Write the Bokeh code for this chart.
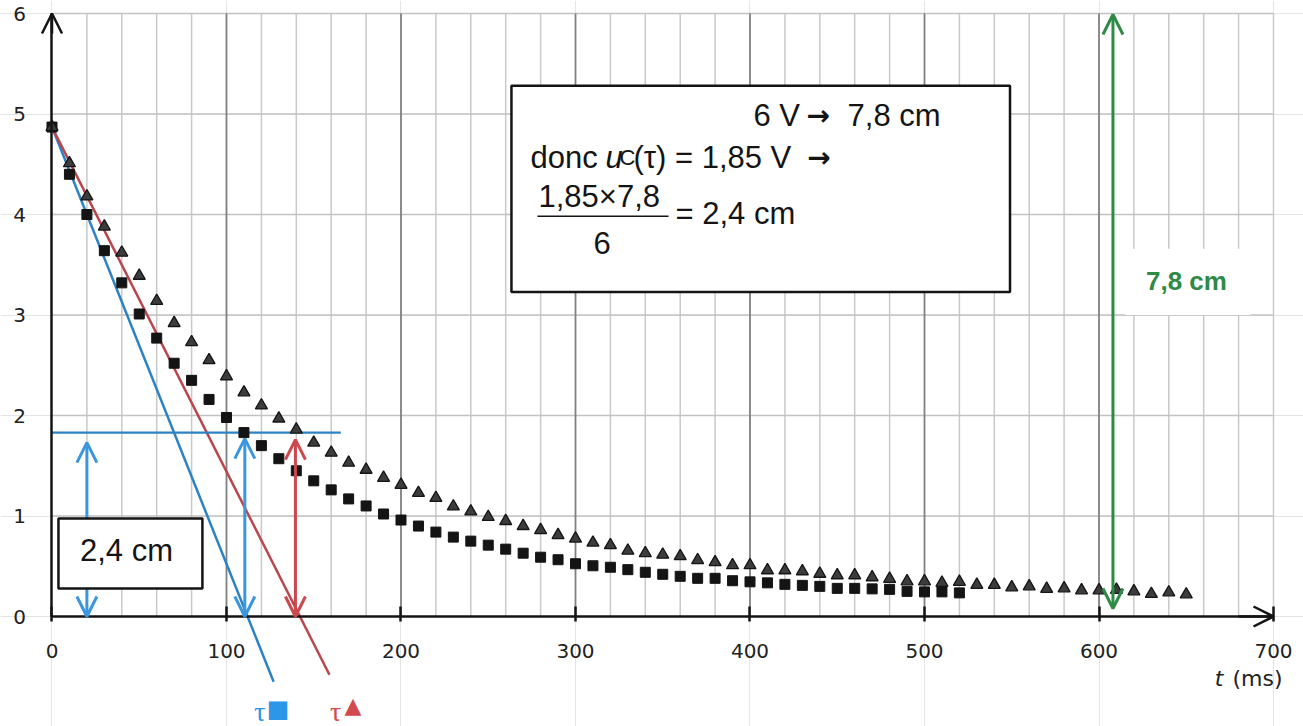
from bokeh.plotting import figure
from bokeh.models import (ColumnDataSource, LinearAxis, FixedTicker, Arrow, OpenHead,
                          Label, BoxAnnotation, Range1d)
from bokeh.embed import file_html
from bokeh.resources import INLINE

# ---------------- data ----------------
t_square = [0, 10, 20, 30, 40, 50, 60, 70, 80, 90, 100, 110, 120, 130, 140, 150, 160, 170,
            180, 190, 200, 210, 220, 230, 240, 250, 260, 270, 280, 290, 300, 310, 320, 330,
            340, 350, 360, 370, 380, 390, 400, 410, 420, 430, 440, 450, 460, 470, 480, 490,
            500, 510, 520]
u_square = [4.87, 4.40, 4.00, 3.64, 3.32, 3.01, 2.77, 2.52, 2.35, 2.16, 1.98, 1.83, 1.70,
            1.57, 1.45, 1.35, 1.26, 1.17, 1.10, 1.02, 0.96, 0.90, 0.84, 0.79, 0.75, 0.71,
            0.67, 0.63, 0.59, 0.565, 0.525, 0.505, 0.49, 0.466, 0.44, 0.42, 0.40, 0.38,
            0.38, 0.356, 0.345, 0.335, 0.32, 0.31, 0.30, 0.28, 0.28, 0.275, 0.27, 0.25,
            0.245, 0.245, 0.235]

t_triangle = [0, 10, 20, 30, 40, 50, 60, 70, 80, 90, 100, 110, 120, 130, 140, 150, 160, 170,
              180, 190, 200, 210, 220, 230, 240, 250, 260, 270, 280, 290, 300, 310, 320, 330,
              340, 350, 360, 370, 380, 390, 400, 410, 420, 430, 440, 450, 460, 470, 480, 490,
              500, 510, 520, 530, 540, 550, 560, 570, 580, 590, 600, 610, 620, 630, 640, 650]
u_triangle = [4.87, 4.51, 4.18, 3.88, 3.62, 3.39, 3.14, 2.92, 2.73, 2.55, 2.39, 2.23, 2.10,
              1.97, 1.86, 1.73, 1.63, 1.53, 1.46, 1.38, 1.31, 1.23, 1.18, 1.095, 1.045, 0.99,
              0.95, 0.90, 0.86, 0.81, 0.775, 0.735, 0.71, 0.655, 0.63, 0.615, 0.60, 0.56,
              0.54, 0.51, 0.51, 0.46, 0.46, 0.45, 0.425, 0.41, 0.41, 0.39, 0.375, 0.35, 0.35,
              0.335, 0.345, 0.315, 0.315, 0.29, 0.30, 0.275, 0.28, 0.26, 0.26, 0.265, 0.25,
              0.225, 0.24, 0.22]

x_ticks = [0, 100, 200, 300, 400, 500, 600, 700]
y_ticks = [0, 1, 2, 3, 4, 5, 6]
x_grid_major = [100, 200, 300, 400, 500, 600]
x_grid_minor = [20, 40, 60, 80, 120, 140, 160, 180, 220, 240, 260, 280, 320, 340, 360, 380,
                420, 440, 460, 480, 520, 540, 560, 580, 620, 640, 660, 680, 700]
y_grid = [1, 2, 3, 4, 5, 6]

# tangent lines at t = 0 (end points)
tan_sq_t = [0, 127]
tan_sq_u = [4.87, -0.65]
tan_tri_t = [0, 159]
tan_tri_u = [4.87, -0.58]
level_t = [0, 165.5]
level_u = [1.83, 1.83]

# double arrows
blue_arrow_t = [20, 110.5]
blue_arrow_lo = [0.0, 0.0]
blue_arrow_hi = [1.73, 1.77]
red_arrow_t = [139.5]
red_arrow_lo = [0.0]
red_arrow_hi = [1.76]
green_arrow_t = [608]
green_arrow_lo = [0.08]
green_arrow_hi = [5.99]

# ---------------- figure ----------------
BLUE = "#2c82c4"
BLUE_A = "#3a96de"
RED = "#b9464d"
RED_A = "#cc484e"
GREEN = "#2f8a45"
INK = "#141414"

p = figure(width=1303, height=726,
           x_range=Range1d(-29.51, 717.19), y_range=Range1d(-1.0945, 6.1294),
           output_backend="svg", toolbar_location=None,
           x_axis_location=None, y_axis_location=None, min_border=0)
p.outline_line_color = None
p.background_fill_color = "white"
p.border_fill_color = "white"

# grid
p.segment(x0=x_grid_minor, y0=0, x1=x_grid_minor, y1=6, line_color="#c9c9c9", line_width=1.5)
p.segment(x0=0, y0=y_grid, x1=700, y1=y_grid, line_color="#c2c2c2", line_width=1.6)
p.segment(x0=x_grid_major, y0=0, x1=x_grid_major, y1=6, line_color="#808080", line_width=1.8)

# axes placed at the origin
xaxis = LinearAxis(fixed_location=0, ticker=FixedTicker(ticks=x_ticks), bounds=(0, 700))
xaxis.axis_line_color = INK
xaxis.axis_line_width = 2.5
xaxis.major_tick_line_color = INK
xaxis.major_tick_line_width = 2.5
xaxis.major_tick_in = 10
xaxis.major_tick_out = 5
xaxis.minor_tick_line_color = None
xaxis.major_label_text_font = "DejaVu Sans"
xaxis.major_label_text_font_size = "20px"
xaxis.major_label_text_color = "#222222"
xaxis.major_label_standoff = 22
p.add_layout(xaxis, "below")

yaxis = LinearAxis(fixed_location=0, ticker=FixedTicker(ticks=y_ticks), bounds=(0, 6))
yaxis.axis_line_color = INK
yaxis.axis_line_width = 2.5
yaxis.major_tick_line_color = None
yaxis.minor_tick_line_color = None
yaxis.major_tick_in = 0
yaxis.major_tick_out = 0
yaxis.major_label_text_font = "DejaVu Sans"
yaxis.major_label_text_font_size = "20px"
yaxis.major_label_text_color = "#222222"
yaxis.major_label_standoff = 26
p.add_layout(yaxis, "left")

# axis arrow heads
p.add_layout(Arrow(x_start=0, y_start=5.8, x_end=0, y_end=6.0, line_color=INK, line_width=2.5,
                   end=OpenHead(size=20, line_color=INK, line_width=2.5)))
p.add_layout(Arrow(x_start=680, y_start=0, x_end=700, y_end=0, line_color=INK, line_width=2.5,
                   end=OpenHead(size=20, line_color=INK, line_width=2.5)))

# tangents and level line
p.line(tan_sq_t, tan_sq_u, line_color=BLUE, line_width=2.5)
p.line(tan_tri_t, tan_tri_u, line_color=RED, line_width=2.5)
p.line(level_t, level_u, line_color=BLUE, line_width=2.2)

# data
p.scatter(t_square, u_square, marker="square", size=10, fill_color=INK, line_color=INK)
p.scatter(t_triangle, u_triangle, marker="triangle", size=12, fill_color="#3c3c3c",
          line_color=INK, line_width=1.3)

# double arrows
def double_arrows(ts, lo, hi, color, width):
    src = ColumnDataSource(dict(x=ts, y0=lo, y1=hi))
    p.add_layout(Arrow(x_start="x", y_start="y0", x_end="x", y_end="y1", source=src,
                       line_color=color, line_width=width,
                       start=OpenHead(size=20, line_color=color, line_width=width),
                       end=OpenHead(size=20, line_color=color, line_width=width)))

double_arrows(blue_arrow_t, blue_arrow_lo, blue_arrow_hi, BLUE_A, 3)
double_arrows(red_arrow_t, red_arrow_lo, red_arrow_hi, RED_A, 3)
double_arrows(green_arrow_t, green_arrow_lo, green_arrow_hi, GREEN, 3)


def lab(x, y, s, size="31px", font="Liberation Sans", style="normal", align="left",
        color=INK):
    p.add_layout(Label(x=x, y=y, text=s, text_align=align, text_baseline="middle",
                       text_font=font, text_font_size=size, text_font_style=style,
                       text_color=color))


# small box "2,4 cm"
p.add_layout(BoxAnnotation(left=3.7, right=86.2, bottom=0.279, top=0.975,
                           fill_color="white", fill_alpha=1.0,
                           line_color=INK, line_width=2.5, line_alpha=1.0))
lab(42.7, 0.657, "2,4 cm", size="31px", align="center")

# big box
p.add_layout(BoxAnnotation(left=263.3, right=549.0, bottom=3.23, top=5.28,
                           fill_color="white", fill_alpha=1.0,
                           line_color=INK, line_width=2.5, line_alpha=1.0))
lab(402.0, 4.985, "6 V")
lab(432.4, 4.985, "\u2192", size="28px", font="DejaVu Sans", style="bold")
lab(455.9, 4.985, "7,8 cm")
lab(274.2, 4.567, "donc")
lab(317.2, 4.567, "u", style="italic")
lab(325.2, 4.567, "C", size="22px")
lab(333.2, 4.567, "(\u03c4) = 1,85 V")
lab(432.8, 4.567, "\u2192", size="28px", font="DejaVu Sans", style="bold")
lab(278.8, 4.179, "1,85\u00d77,8")
p.add_layout(Arrow(x_start=278.2, y_start=3.983, x_end=353.3, y_end=3.983, end=None,
                   line_color=INK, line_width=1.5))
lab(315.2, 3.716, "6", align="center")
lab(357.3, 4.01, "= 2,4 cm")

# "7,8 cm" label with white patch
p.add_layout(BoxAnnotation(left=615.0, right=686.8, bottom=3.0, top=3.66,
                           fill_color="white", fill_alpha=1.0, line_color=None))
lab(650.1, 3.343, "7,8 cm", size="26px", style="bold", align="center", color=GREEN)

# time constant labels
lab(119.2, -0.95, "\u03c4", size="28px", font="Liberation Serif", align="center",
    color="#2c96e8")
lab(129.5, -0.925, "\u25a0", size="24px", font="DejaVu Sans", align="center",
    color="#2c96e8")
lab(162.5, -0.95, "\u03c4", size="28px", font="Liberation Serif", align="center",
    color="#d24a4f")
lab(172.5, -0.881, "\u25b2", size="22px", font="DejaVu Sans", align="center",
    color="#d24a4f")

# axis title "t (ms)"
lab(671.3, -0.617, "t", size="22px", font="DejaVu Sans", style="italic", align="right",
    color="#222222")
lab(705.2, -0.617, "(ms)", size="22px", font="DejaVu Sans", align="right",
    color="#222222")

open("out.html", "w").write(file_html(p, INLINE))
